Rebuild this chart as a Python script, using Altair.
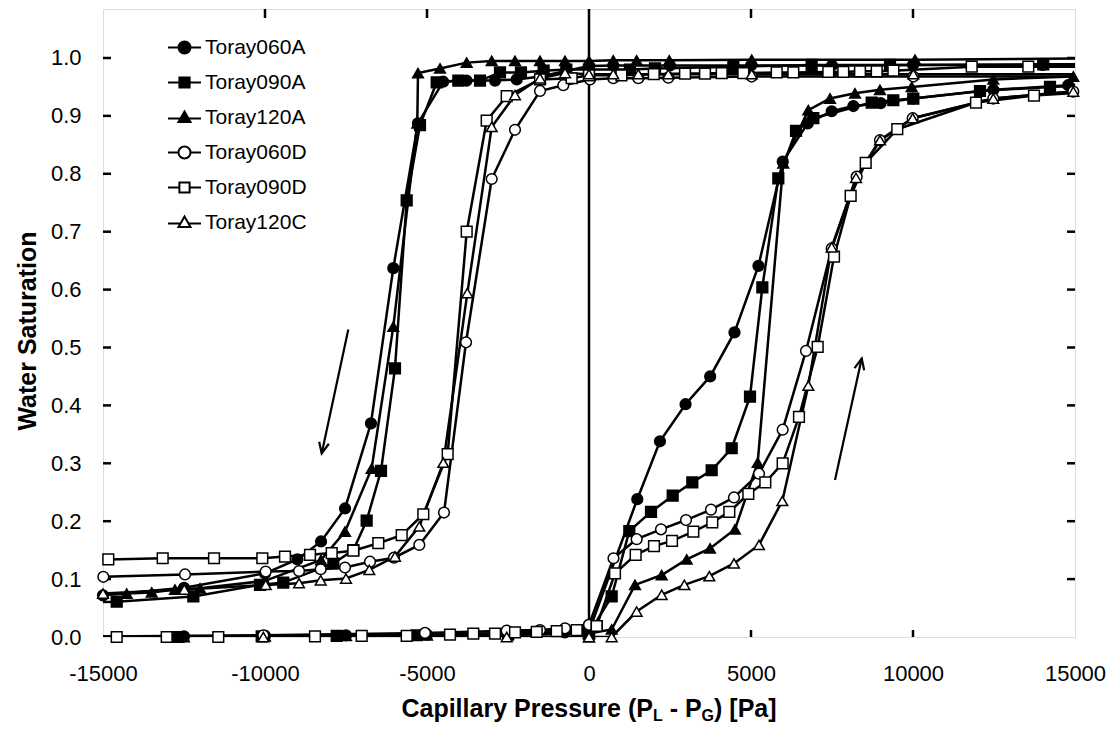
import altair as alt
import pandas as pd

series_names = ["Toray060A", "Toray090A", "Toray120A", "Toray060D", "Toray090D", "Toray120C"]
shapes = ["circle", "square", "triangle-up", "circle", "square", "triangle-up"]
fills = ["black", "black", "black", "white", "white", "white"]

# Each loop is listed in drawing order (imbibition, top branch, drainage, bottom branch).
p_060A = [0, 1490, 2190, 2980, 3740, 4490, 5230, 5980, 6750, 7490, 8160, 9000, 10000, 12480, 14790, 16500, 16500,
          14000, 10000, 7500, 5000, 2500, 750, 0, -1500, -2230, -2900, -3780, -4500, -5280, -6040, -6730, -7530,
          -8270, -9000, -10000, -12500, -15000, -16500, -16500, -12500, -10000, -7500, -5000, -2500, -750, 0]
s_060A = [0.010, 0.238, 0.338, 0.402, 0.450, 0.526, 0.641, 0.821, 0.887, 0.908, 0.917, 0.922, 0.930, 0.945, 0.953,
          0.958, 0.988, 0.988, 0.988, 0.987, 0.987, 0.987, 0.987, 0.986, 0.968, 0.963, 0.961, 0.961, 0.959, 0.887,
          0.637, 0.369, 0.222, 0.165, 0.134, 0.110, 0.085, 0.072, 0.070, 0.0, 0.001, 0.002, 0.003, 0.004, 0.006,
          0.008, 0.010]

p_090A = [0, 700, 1244, 1914, 2583, 3189, 3786, 4404, 4969, 5350, 5843, 6389, 6923, 8725, 9392, 10010, 12068,
          14228, 16500, 16500, 14021, 9290, 6872, 4455, 2037, 1265, 0, -700, -1400, -2100, -2747, -3364, -4034,
          -4701, -5216, -5627, -5988, -6420, -6862, -7274, -7891, -9435, -10154, -12212, -14577, -16500, -16500,
          -12676, -10102, -7787, -5318, -2500, 0]
s_090A = [0.006, 0.070, 0.183, 0.216, 0.244, 0.267, 0.288, 0.326, 0.415, 0.604, 0.792, 0.874, 0.896, 0.923, 0.927,
          0.930, 0.943, 0.950, 0.955, 0.989, 0.989, 0.988, 0.988, 0.985, 0.982, 0.980, 0.980, 0.980, 0.978, 0.975,
          0.975, 0.961, 0.961, 0.958, 0.884, 0.754, 0.464, 0.287, 0.201, 0.150, 0.127, 0.094, 0.090, 0.070, 0.061,
          0.058, 0.0, 0.0, 0.001, 0.002, 0.003, 0.004, 0.006]

p_120A = [0, 700, 1420, 2244, 3015, 3735, 4506, 5206, 5997, 6769, 7438, 8210, 8981, 9959, 12478, 14947, 16500,
          16500, 10062, 5021, 2479, 1471, 750, 0, -741, -1512, -2284, -3003, -3775, -4599, -5278, -5300, -6040,
          -6708, -7531, -8272, -10000, -12006, -12778, -13497, -14268, -16500, -16500, -12500, -10000, -7500,
          -5000, -2500, 0]
s_120A = [0.006, 0.013, 0.090, 0.107, 0.134, 0.153, 0.186, 0.301, 0.818, 0.910, 0.930, 0.939, 0.945, 0.950, 0.963,
          0.968, 0.972, 0.9995, 0.997, 0.997, 0.996, 0.996, 0.996, 0.995, 0.995, 0.995, 0.995, 0.995, 0.992, 0.982,
          0.974, 0.887, 0.536, 0.291, 0.182, 0.133, 0.097, 0.084, 0.082, 0.077, 0.075, 0.070, 0.0, 0.0, 0.001,
          0.002, 0.003, 0.004, 0.006]

p_060D = [0, 756, 1471, 2222, 2994, 3765, 4475, 5247, 5977, 6697, 7490, 8262, 8981, 9990, 12478, 14947, 16500,
          16500, 10010, 5021, 2448, 1522, 750, 31, -793, -1512, -2284, -3003, -3796, -4475, -5237, -6018, -6759,
          -7531, -8282, -8950, -9978, -12469, -14990, -16500, -16500, -10052, -5062, -2540, -1512, -741, 0]
s_060D = [0.021, 0.136, 0.169, 0.186, 0.202, 0.220, 0.241, 0.282, 0.358, 0.494, 0.671, 0.795, 0.858, 0.896, 0.930,
          0.942, 0.948, 0.968, 0.968, 0.968, 0.966, 0.965, 0.965, 0.963, 0.953, 0.943, 0.876, 0.791, 0.509, 0.215,
          0.159, 0.137, 0.130, 0.120, 0.117, 0.114, 0.113, 0.108, 0.104, 0.103, 0.0, 0.003, 0.007, 0.011, 0.012,
          0.015, 0.021]

p_090D = [237, 802, 1440, 2006, 2562, 3220, 3806, 4331, 4917, 5442, 5977, 6481, 7058, 7562, 8076, 8540, 9515,
          11944, 13734, 16500, 16500, 13559, 11812, 9394, 8880, 8364, 7849, 7386, 6306, 5793, 4763, 4096, 3580,
          2963, 2000, 1000, 0, -535, -1512, -2540, -3158, -3775, -4362, -5114, -5781, -6503, -7275, -7941, -8611,
          -9383, -10083, -11574, -13158, -14836, -16500, -16500, -14577, -13034, -11441, -8457, -7016, -5627,
          -4290, -3571, -2901, -2284, -1614, -997, -380, 237]
s_090D = [0.019, 0.110, 0.142, 0.157, 0.166, 0.182, 0.198, 0.216, 0.247, 0.267, 0.300, 0.380, 0.501, 0.657, 0.762,
          0.819, 0.877, 0.923, 0.935, 0.945, 0.985, 0.985, 0.985, 0.978, 0.977, 0.977, 0.976, 0.976, 0.975, 0.975,
          0.974, 0.974, 0.973, 0.973, 0.972, 0.970, 0.970, 0.965, 0.963, 0.934, 0.892, 0.700, 0.316, 0.212, 0.176,
          0.162, 0.149, 0.145, 0.142, 0.139, 0.136, 0.136, 0.136, 0.134, 0.134, 0.0, 0.0, 0.0, 0.0, 0.001, 0.002,
          0.002, 0.004, 0.006, 0.006, 0.008, 0.009, 0.010, 0.012, 0.019]

p_120C = [0, 700, 1471, 2244, 2943, 3714, 4475, 5247, 5967, 6769, 7490, 8241, 8981, 9990, 12478, 14947, 16500,
          16500, 10010, 5021, 2448, 1522, 750, 0, -741, -1512, -2284, -3003, -3755, -4497, -5237, -5988, -6781,
          -7500, -8282, -8950, -9978, -12490, -15000, -16500, -16500, -10052, -2540, 0]
s_120C = [0.0, 0.0, 0.044, 0.073, 0.090, 0.105, 0.127, 0.159, 0.235, 0.434, 0.673, 0.793, 0.858, 0.896, 0.930,
          0.942, 0.948, 0.972, 0.972, 0.972, 0.972, 0.972, 0.972, 0.972, 0.974, 0.965, 0.936, 0.881, 0.594, 0.301,
          0.191, 0.139, 0.116, 0.101, 0.098, 0.093, 0.090, 0.082, 0.075, 0.074, 0.0, 0.0, 0.0, 0.0]

x_ticks = [-15000, -10000, -5000, 0, 5000, 10000, 15000]
inner_x_ticks = [-10000, -5000, 5000, 10000]
y_ticks = [0.0, 0.1, 0.2, 0.3, 0.4, 0.5, 0.6, 0.7, 0.8, 0.9, 1.0]
inner_y_ticks = [0.1, 0.2, 0.3, 0.4, 0.5, 0.6, 0.7, 0.8, 0.9, 1.0]

# direction arrows (start -> tip), in data units
arrow_p0 = [-7429, 7593]
arrow_s0 = [0.531, 0.271]
arrow_p1 = [-8250, 8417]
arrow_s1 = [0.317, 0.481]
arrow_angle = [12.1, 192.4]

series_data = {
    "Toray060A": (p_060A, s_060A), "Toray090A": (p_090A, s_090A), "Toray120A": (p_120A, s_120A),
    "Toray060D": (p_060D, s_060D), "Toray090D": (p_090D, s_090D), "Toray120C": (p_120C, s_120C),
}
rows = []
for name in series_names:
    ps, ss = series_data[name]
    for i, (p, s) in enumerate(zip(ps, ss)):
        rows.append({"series": name, "idx": i, "P": p, "S": s})
df = pd.DataFrame(rows)

W, H = 972, 628
FONT = "Liberation Sans"
YMAX = 1.0846

xs = alt.Scale(domain=[-15000, 15000], nice=False, zero=False)
ys = alt.Scale(domain=[0, YMAX], nice=False, zero=False)
xa = alt.Axis(values=x_ticks, labelExpr="'' + datum.value", title=None, domain=False, ticks=False, grid=False,
              labelFontSize=22, labelFont=FONT, labelColor="black", labelPadding=26, labelFlush=False,
              labelOverlap=False)
ya = alt.Axis(values=y_ticks, format=".1f", title=None, domain=False, ticks=False, grid=False,
              labelFontSize=22, labelFont=FONT, labelColor="black", labelPadding=22, labelFlush=False,
              labelOverlap=False)

def X(field):
    return alt.X(field, scale=xs, axis=xa)

def Y(field):
    return alt.Y(field, scale=ys, axis=ya)

base = alt.Chart(df)

lines = base.mark_line(color="black", strokeWidth=2.5, clip=True).encode(
    x=X("P:Q"), y=Y("S:Q"), detail="series:N", order=alt.Order("idx:Q"),
)

points = base.transform_filter("abs(datum.P) <= 15000").mark_point(
    filled=True, size=115, stroke="black", strokeWidth=1.5, opacity=1
).encode(
    x=X("P:Q"), y=Y("S:Q"),
    shape=alt.Shape("series:N", scale=alt.Scale(domain=series_names, range=shapes), legend=None),
    fill=alt.Fill("series:N", scale=alt.Scale(domain=series_names, range=fills), legend=None),
)

legend_paths = [
    "M-2.75,0L-1,0M1,0L2.75,0M-1,0A1,1,0,1,0,1,0A1,1,0,1,0,-1,0Z",
    "M-2.75,0L-0.85,0M0.85,0L2.75,0M-0.85,-0.85L0.85,-0.85L0.85,0.85L-0.85,0.85Z",
    "M-2.75,0.15L-0.6,0.15M0.6,0.15L2.75,0.15M0,-1L1,0.75L-1,0.75Z",
    "M-2.75,0L-1,0M1,0L2.75,0M-1,0A1,1,0,1,0,1,0A1,1,0,1,0,-1,0Z",
    "M-2.75,0L-0.85,0M0.85,0L2.75,0M-0.85,-0.85L0.85,-0.85L0.85,0.85L-0.85,0.85Z",
    "M-2.75,0.15L-0.6,0.15M0.6,0.15L2.75,0.15M0,-1L1,0.75L-1,0.75Z",
]
leg = alt.Legend(title=None, orient="none", legendX=71, legendY=28, labelFont=FONT, labelFontSize=21,
                 labelColor="black", symbolSize=144, symbolStrokeWidth=2, labelOffset=10, rowPadding=13,
                 padding=0)
legend_layer = base.transform_filter("false").mark_point(
    filled=True, size=144, strokeWidth=2, opacity=1
).encode(
    x=X("P:Q"), y=Y("S:Q"),
    shape=alt.Shape("series:N", scale=alt.Scale(domain=series_names, range=legend_paths), legend=leg),
    fill=alt.Fill("series:N", scale=alt.Scale(domain=series_names, range=fills), legend=leg),
    stroke=alt.Stroke("series:N", scale=alt.Scale(domain=series_names, range=["black"] * 6), legend=leg),
)

zero_line = alt.Chart(pd.DataFrame({"P": [0]})).mark_rule(color="black", strokeWidth=2.5).encode(x=X("P:Q"))

xt_df = pd.DataFrame({"P": inner_x_ticks})
yt_df = pd.DataFrame({"S": inner_y_ticks})
tick_bottom = alt.Chart(xt_df).mark_rule(color="black", strokeWidth=2.5).encode(
    x=X("P:Q"), y=alt.value(H), y2=alt.value(H - 7))
tick_top = alt.Chart(xt_df).mark_rule(color="black", strokeWidth=2.5).encode(
    x=X("P:Q"), y=alt.value(0), y2=alt.value(9))
tick_left = alt.Chart(yt_df).mark_rule(color="black", strokeWidth=2.5).encode(
    y=Y("S:Q"), x=alt.value(0), x2=alt.value(8))
tick_right = alt.Chart(yt_df).mark_rule(color="black", strokeWidth=2.5).encode(
    y=Y("S:Q"), x=alt.value(W), x2=alt.value(W - 8))

arrow_df = pd.DataFrame({"P": arrow_p0, "S": arrow_s0, "P1": arrow_p1, "S1": arrow_s1, "ang": arrow_angle})
arrow_shaft = alt.Chart(arrow_df).mark_rule(color="black", strokeWidth=2.2).encode(
    x=X("P:Q"), y=Y("S:Q"), x2="P1:Q", y2="S1:Q")
arrow_head = alt.Chart(arrow_df).mark_point(
    shape="M-0.45,-1L0,0L0.45,-1", size=484, filled=False, stroke="black", strokeWidth=2.2, opacity=1
).encode(x=X("P1:Q"), y=Y("S1:Q"), angle=alt.Angle("ang:Q", scale=None))

# x-axis title with subscripts (no leading/trailing spaces inside a part; gaps added explicitly)
bold_w = {"C": 722, "a": 556, "p": 611, "i": 278, "l": 278, "r": 389, "y": 556, " ": 278, "P": 667,
          "e": 556, "s": 556, "u": 611, "(": 333, ")": 333, "-": 333, "[": 333, "]": 333, "L": 611, "G": 778}
title_parts = ["Capillary Pressure (P", "L", "- P", "G", ") [Pa]"]
title_sizes = [25, 16, 25, 16, 25]
title_drop = [0, 4, 0, 4, 0]
title_gap = [0, 0, 0.278 * 25, 0, 0]
widths = [sum(bold_w[c] for c in t) / 1000 * f for t, f in zip(title_parts, title_sizes)]
total = sum(widths) + sum(title_gap)
cur = (589 - 103) - total / 2
title_layers = []
for t, f, d, g, wdt in zip(title_parts, title_sizes, title_drop, title_gap, widths):
    cur += g
    title_layers.append(
        alt.Chart(pd.DataFrame({"t": [t]})).mark_text(
            font=FONT, fontSize=f, fontWeight="bold", align="left", baseline="alphabetic", color="black"
        ).encode(text="t:N", x=alt.value(cur), y=alt.value(708 + d))
    )
    cur += wdt

ytitle = alt.Chart(pd.DataFrame({"t": ["Water Saturation"]})).mark_text(
    font=FONT, fontSize=25, fontWeight="bold", align="center", baseline="middle", angle=270, color="black"
).encode(text="t:N", x=alt.value(28 - 103), y=alt.value(331 - 9))

chart = alt.layer(
    lines, zero_line, tick_bottom, tick_top, tick_left, tick_right, arrow_shaft, arrow_head,
    points, legend_layer, ytitle, *title_layers
).resolve_scale(shape="independent", fill="independent", stroke="independent").properties(
    width=W, height=H, autosize=alt.AutoSizeParams(type="none"),
    padding={"left": 95, "top": 1, "right": 32, "bottom": 88},
).configure_view(stroke="black", strokeWidth=3).configure(font=FONT)

chart.save("out.html", embed_options={"renderer": "svg", "actions": False})
